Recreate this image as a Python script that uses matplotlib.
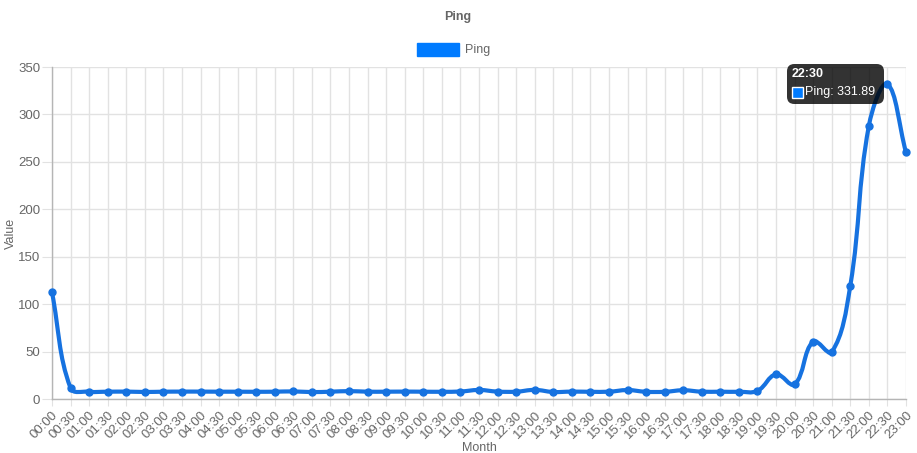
import numpy as np
import matplotlib
matplotlib.use("Agg")
import matplotlib.pyplot as plt
from matplotlib.path import Path
from matplotlib.patches import PathPatch, FancyBboxPatch, Rectangle

plt.rcParams['font.family'] = ['Liberation Sans', 'DejaVu Sans']

# ---- data ----
labels = [f"{h:02d}:{m:02d}" for h in range(24) for m in (0, 30)][:47]
ping = [112.5, 11.5, 7.7, 7.7, 7.8, 7.4, 7.7, 7.8, 7.8, 7.7,
        7.7, 7.6, 7.7, 8.0, 7.3, 7.7, 8.3, 7.7, 7.7, 7.8,
        7.7, 7.6, 7.9, 9.5, 7.8, 7.7, 9.6, 7.4, 7.8, 7.6,
        7.7, 9.4, 7.6, 7.6, 9.2, 7.7, 7.7, 7.6, 8.6, 26.0,
        15.5, 60.5, 49.5, 119.5, 288.0, 331.89, 260.0]
series_name = "Ping"
title = "Ping"
x_label = "Month"
y_label = "Value"
y_ticks = [0, 50, 100, 150, 200, 250, 300, 350]
tooltip_index = 45

W, H = 917, 453
LINE = '#1672e0'
FILL = '#007bff'
TXT = '#666666'

fig = plt.figure(figsize=(W / 100, H / 100), dpi=100)
L, R, T, B = 52, 906, 67, 399
ax = fig.add_axes([L / W, 1 - B / H, (R - L) / W, (B - T) / H])
x = np.arange(len(labels))
ax.set_xlim(0, len(labels) - 1)
ax.set_ylim(0, 350)

# grid / axes style
for s in ('top', 'right'):
    ax.spines[s].set_visible(False)
for s in ('left', 'bottom'):
    ax.spines[s].set_color('#b5b5b5')
    ax.spines[s].set_linewidth(1)
ax.set_xticks(x)
ax.set_xticklabels(labels, rotation=45, ha='right', va='top', rotation_mode='anchor')
ax.set_yticks(y_ticks)
ax.grid(True, color='#e2e2e2', linewidth=1)
ax.tick_params(axis='both', colors='#e2e2e2', labelcolor=TXT, labelsize=9.5)
ax.tick_params(axis='y', length=7.5, pad=1)
ax.tick_params(axis='x', length=5, pad=2)
ax.set_axisbelow(True)
ax.set_xlabel(x_label, color=TXT, fontsize=9, labelpad=1)
ax.set_ylabel(y_label, color=TXT, fontsize=9, labelpad=1)

# Chart.js-like spline (tension 0.4) in pixel space
tension = 0.4
pts = ax.transData.transform(np.column_stack([x, ping]))
n = len(pts)
cp_prev = np.zeros_like(pts)
cp_next = np.zeros_like(pts)
for i in range(n):
    prev = pts[i - 1] if i > 0 else pts[i]
    cur = pts[i]
    nxt = pts[i + 1] if i < n - 1 else pts[i]
    d01 = np.hypot(*(cur - prev))
    d12 = np.hypot(*(nxt - cur))
    tot = d01 + d12
    s01 = d01 / tot if tot else 0
    s12 = d12 / tot if tot else 0
    cp_prev[i] = cur - tension * s01 * (nxt - prev)
    cp_next[i] = cur + tension * s12 * (nxt - prev)
verts = [pts[0]]
codes = [Path.MOVETO]
for i in range(n - 1):
    verts += [cp_next[i], cp_prev[i + 1], pts[i + 1]]
    codes += [Path.CURVE4] * 3
inv = ax.transData.inverted()
verts_data = inv.transform(np.array(verts))
patch = PathPatch(Path(verts_data, codes), facecolor='none', edgecolor=LINE,
                  linewidth=3, capstyle='round', joinstyle='round', zorder=3, clip_on=False)
ax.add_patch(patch)
ax.plot(x, ping, 'o', color=LINE, markersize=5, zorder=4, clip_on=False)

# title and legend
fig.text(458 / W, 1 - 17 / H, title, ha='center', va='center', fontsize=9,
         fontweight='bold', color=TXT)
fig.patches.append(Rectangle((417 / W, 1 - 56 / H), 42 / W, 13 / H,
                             transform=fig.transFigure, facecolor=FILL, edgecolor=FILL))
fig.text(465 / W, 1 - 49.5 / H, series_name, ha='left', va='center', fontsize=9, color=TXT)

# tooltip
tx0, ty0, tx1, ty1 = 787, 64, 884, 104
fig.patches.append(FancyBboxPatch((tx0 / W, 1 - ty1 / H), (tx1 - tx0) / W, (ty1 - ty0) / H,
                                  boxstyle="round,pad=0,rounding_size=0.008",
                                  transform=fig.transFigure, facecolor=(0, 0, 0, 0.8),
                                  edgecolor='none', mutation_aspect=W / H, zorder=10))
fig.text(792 / W, 1 - 74 / H, labels[tooltip_index], ha='left', va='center', fontsize=9,
         fontweight='bold', color='white', zorder=11)
fig.patches.append(Rectangle((792 / W, 1 - 98 / H), 11 / W, 11 / H, transform=fig.transFigure,
                             facecolor=FILL, edgecolor='white', linewidth=1, zorder=11))
fig.text(805 / W, 1 - 92 / H, f"{series_name}: {ping[tooltip_index]:.2f}", ha='left',
         va='center', fontsize=9, color='white', zorder=11)

fig.savefig('out.png', dpi=100)
